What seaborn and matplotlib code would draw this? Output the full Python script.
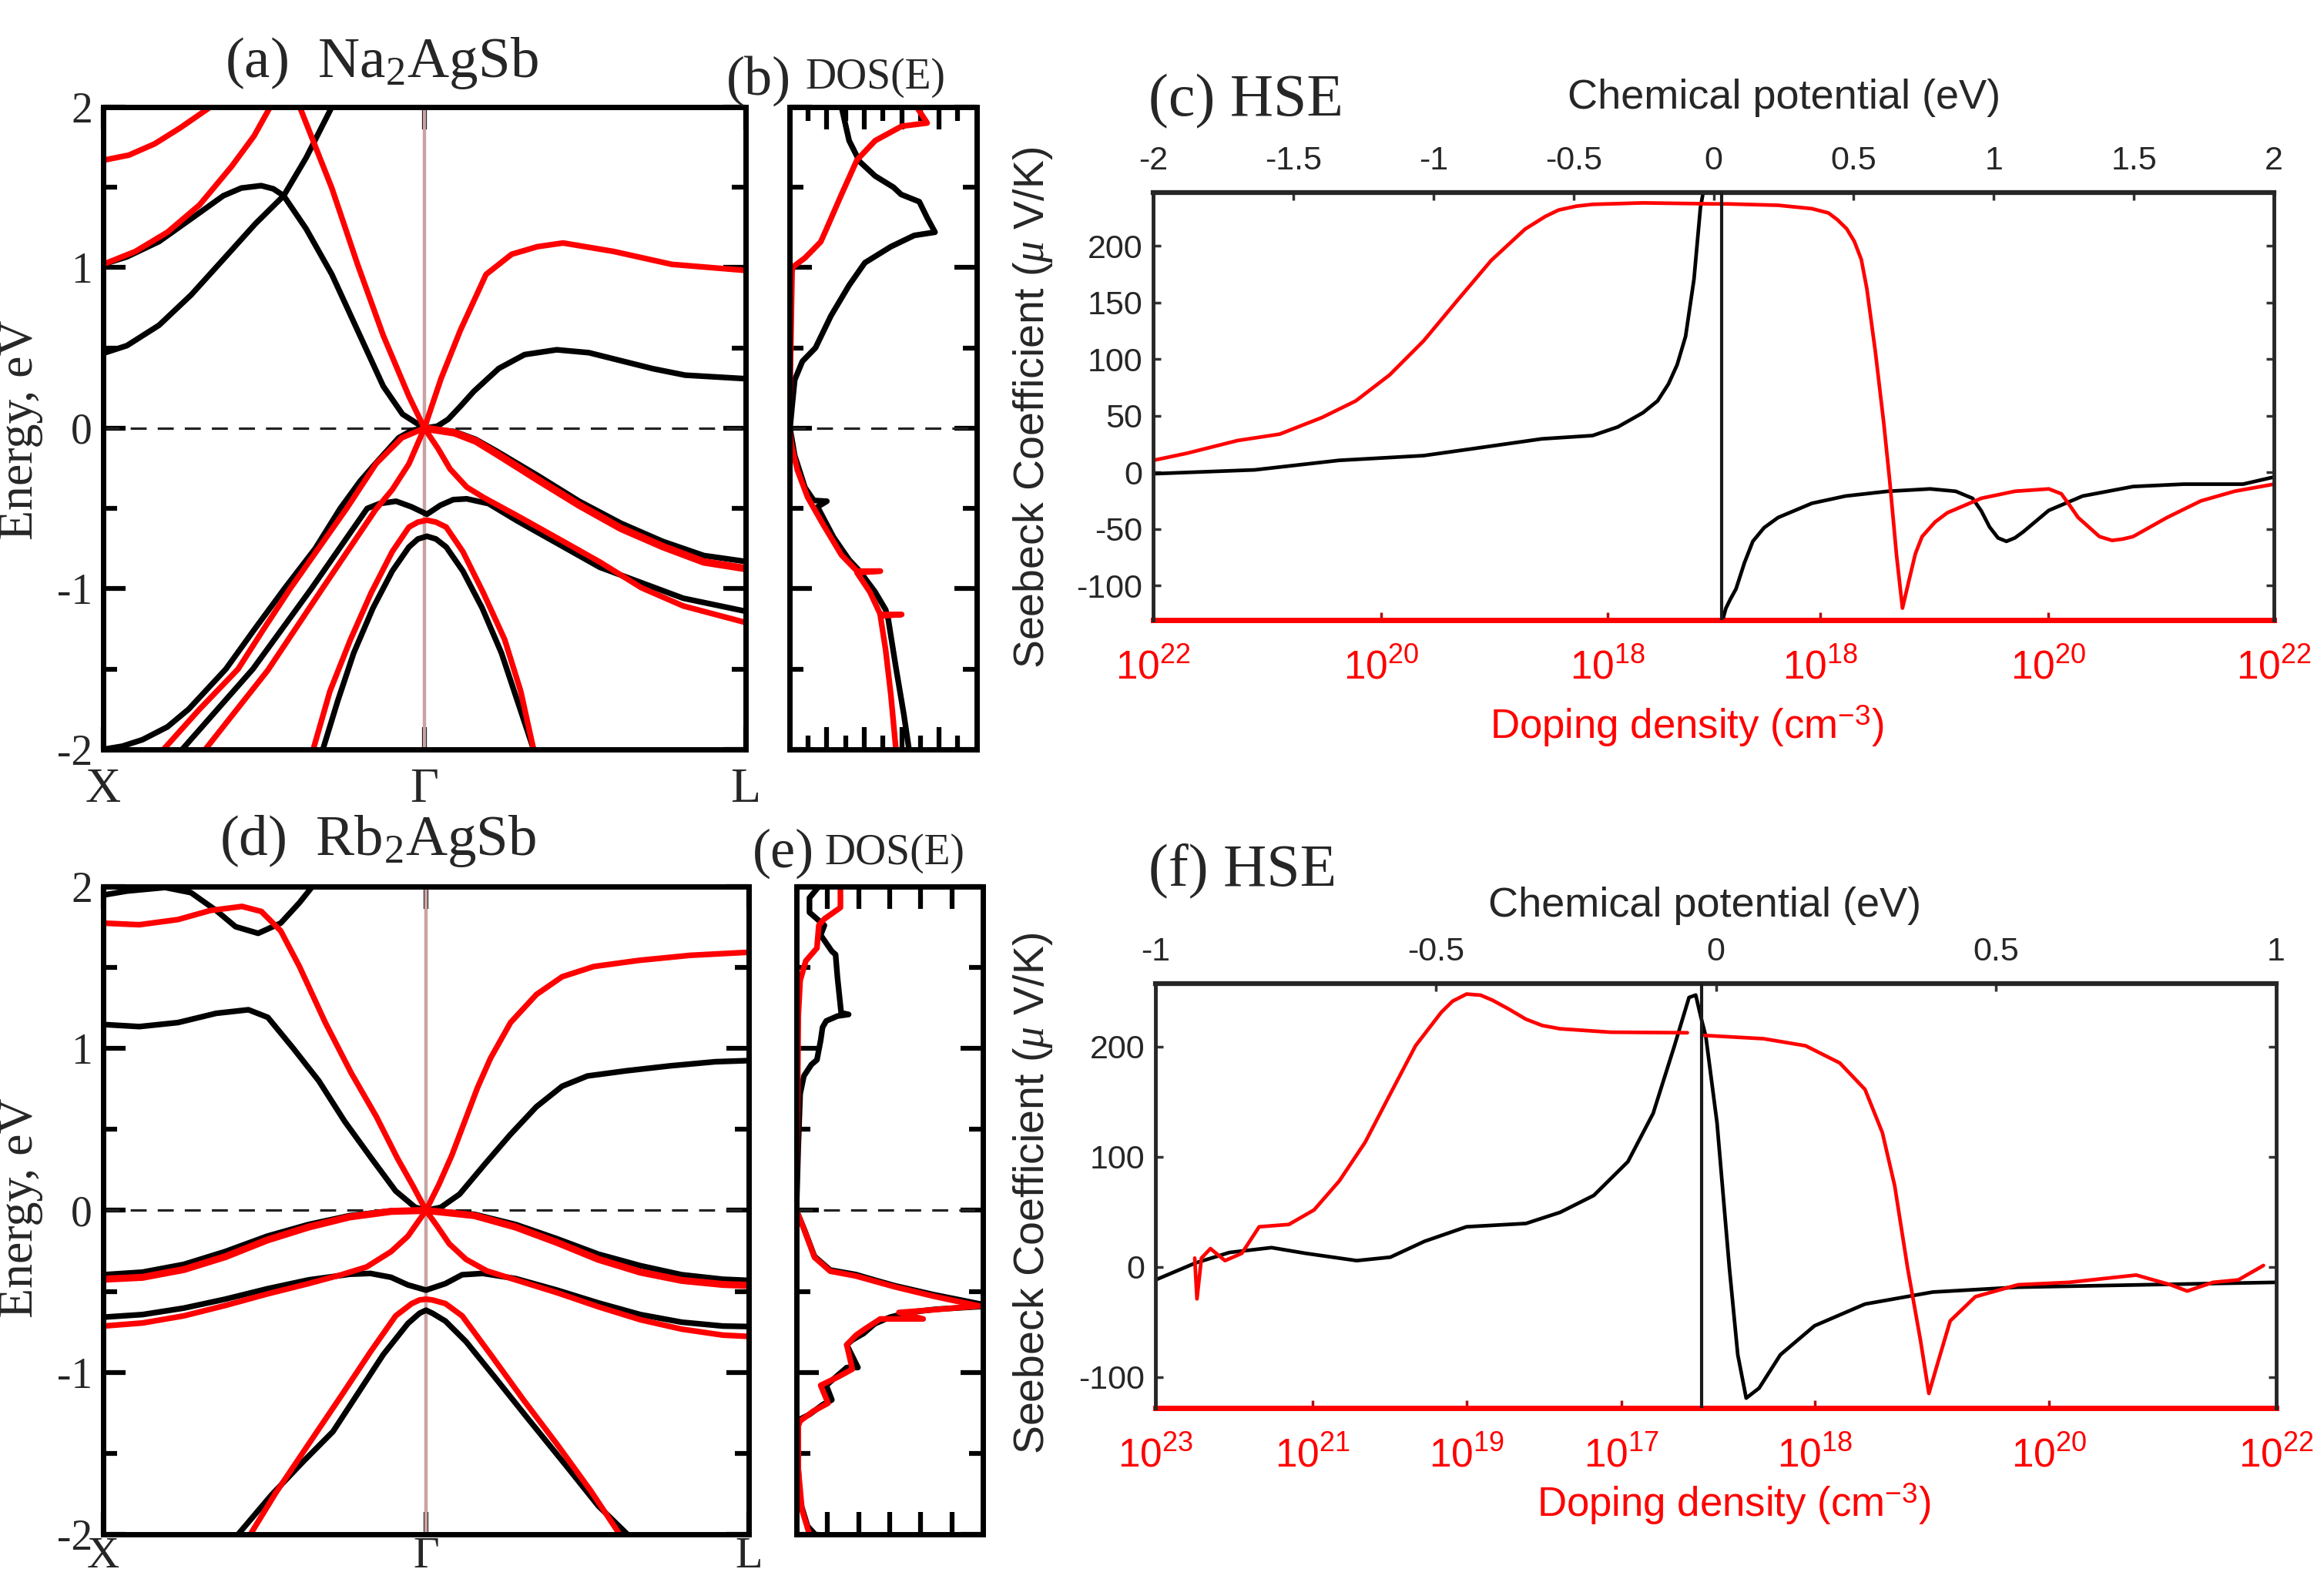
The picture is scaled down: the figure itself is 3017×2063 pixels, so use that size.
import matplotlib
matplotlib.use("Agg")
import matplotlib.pyplot as plt
import seaborn as sns

# ---------------- DATA ----------------
# Band-path ticks
band_ticks = [0.0, 0.5, 1.0]
band_tick_labels = ["X", "Γ", "L"]
energy_ticks = [-2, -1, 0, 1, 2]
energy_tick_labels = ["-2", "-1", "0", "1", "2"]

# (a) Na2AgSb bands, black set
na_b1_k = [0, 0.037, 0.087, 0.137, 0.187, 0.237, 0.281, 0.316, 0.356]
na_b1_E = [0.466, 0.514, 0.641, 0.83, 1.051, 1.273, 1.447, 1.684, 2.0]
na_b2_k = [0, 0.037, 0.087, 0.137, 0.187, 0.215, 0.246, 0.265, 0.281, 0.316, 0.356, 0.396, 0.436, 0.466, 0.5]
na_b2_E = [1.02, 1.067, 1.162, 1.304, 1.447, 1.495, 1.51, 1.49, 1.447, 1.241, 0.957, 0.609, 0.261, 0.087, 0.0]
na_b3_k = [0.5, 0.52, 0.537, 0.557, 0.577, 0.616, 0.656, 0.706, 0.756, 0.806, 0.856, 0.906, 1.0]
na_b3_E = [0.0, 0.012, 0.055, 0.14, 0.229, 0.372, 0.458, 0.488, 0.47, 0.42, 0.37, 0.33, 0.308]
na_b4_k = [0, 0.03, 0.061, 0.1, 0.133, 0.191, 0.236, 0.282, 0.33, 0.369, 0.4, 0.424, 0.46, 0.48, 0.5]
na_b4_E = [-2.0, -1.98, -1.94, -1.86, -1.75, -1.5, -1.25, -1.0, -0.75, -0.5, -0.33, -0.22, -0.06, -0.015, 0.0]
na_b5_k = [0.5, 0.547, 0.58, 0.612, 0.676, 0.741, 0.806, 0.871, 0.935, 1.0]
na_b5_E = [0.0, -0.021, -0.07, -0.142, -0.294, -0.455, -0.592, -0.705, -0.793, -0.83]
na_b6_k = [0.123, 0.233, 0.324, 0.411, 0.43, 0.456, 0.48, 0.504, 0.525, 0.545, 0.566, 0.6, 0.644, 0.773, 0.903, 1.0]
na_b6_E = [-2.0, -1.5, -1.0, -0.5, -0.47, -0.455, -0.49, -0.536, -0.48, -0.445, -0.44, -0.47, -0.576, -0.866, -1.059, -1.14]
na_b7_k = [0.342, 0.365, 0.39, 0.42, 0.45, 0.476, 0.49, 0.504, 0.518, 0.534, 0.56, 0.59, 0.62, 0.645, 0.67]
na_b7_E = [-2.0, -1.7, -1.4, -1.12, -0.89, -0.74, -0.69, -0.673, -0.69, -0.74, -0.89, -1.12, -1.4, -1.7, -2.0]
# (a) red set
na_r1_k = [0, 0.04, 0.08, 0.12, 0.167]
na_r1_E = [1.668, 1.70, 1.77, 1.87, 2.0]
na_r2_k = [0, 0.05, 0.1, 0.15, 0.2, 0.235, 0.26]
na_r2_E = [1.02, 1.1, 1.22, 1.39, 1.63, 1.82, 2.0]
na_r3_k = [0.306, 0.356, 0.396, 0.436, 0.476, 0.5, 0.521, 0.54, 0.566, 0.592, 0.644, 0.709, 0.773, 0.838, 0.903, 1.0]
na_r3_E = [2.0, 1.494, 1.02, 0.577, 0.198, 0.0, -0.125, -0.254, -0.367, -0.431, -0.544, -0.689, -0.833, -0.994, -1.107, -1.21]
na_r4_k = [0.159, 0.256, 0.34, 0.424, 0.45, 0.476, 0.5, 0.526, 0.556, 0.596, 0.636, 0.676, 0.716, 0.795, 0.885, 1.0]
na_r4_E = [-2.0, -1.509, -1.006, -0.508, -0.383, -0.222, 0.0, 0.309, 0.609, 0.957, 1.083, 1.13, 1.153, 1.10, 1.02, 0.982]
na_r5_k = [0.094, 0.15, 0.21, 0.25, 0.291, 0.335, 0.379, 0.425, 0.465, 0.5]
na_r5_E = [-2.0, -1.75, -1.5, -1.25, -1.0, -0.75, -0.5, -0.22, -0.06, 0.0]
na_r6_k = [0.5, 0.547, 0.58, 0.612, 0.676, 0.741, 0.806, 0.871, 0.935, 1.0]
na_r6_E = [0.0, -0.029, -0.08, -0.158, -0.319, -0.479, -0.624, -0.737, -0.833, -0.874]
na_r7_k = [0.327, 0.353, 0.385, 0.417, 0.45, 0.476, 0.49, 0.504, 0.518, 0.534, 0.56, 0.592, 0.625, 0.65, 0.67]
na_r7_E = [-2.0, -1.638, -1.316, -1.027, -0.769, -0.616, -0.585, -0.573, -0.585, -0.616, -0.769, -1.027, -1.316, -1.638, -2.0]

# (d) Rb2AgSb bands, black set
rb_b1_k = [0, 0.037, 0.096, 0.136, 0.175, 0.205, 0.24, 0.275, 0.304, 0.324]
rb_b1_E = [1.947, 1.972, 1.994, 1.962, 1.852, 1.752, 1.711, 1.774, 1.9, 2.0]
rb_b2_k = [0, 0.056, 0.116, 0.175, 0.225, 0.255, 0.294, 0.334, 0.374, 0.414, 0.453, 0.483, 0.5]
rb_b2_E = [1.148, 1.135, 1.16, 1.217, 1.239, 1.192, 1.003, 0.80, 0.55, 0.33, 0.12, 0.02, 0.0]
rb_b3_k = [0.5, 0.523, 0.552, 0.592, 0.631, 0.671, 0.711, 0.75, 0.81, 0.879, 0.948, 1.0]
rb_b3_E = [0.0, 0.019, 0.10, 0.29, 0.47, 0.64, 0.767, 0.83, 0.862, 0.893, 0.918, 0.925]
rb_b4_k = [0, 0.061, 0.125, 0.189, 0.254, 0.318, 0.382, 0.446, 0.5, 0.575, 0.639, 0.703, 0.767, 0.832, 0.896, 0.96, 1.0]
rb_b4_E = [-0.397, -0.381, -0.333, -0.254, -0.159, -0.087, -0.032, -0.003, 0.0, -0.024, -0.087, -0.175, -0.27, -0.341, -0.397, -0.425, -0.432]
rb_b5_k = [0, 0.061, 0.125, 0.189, 0.254, 0.318, 0.382, 0.414, 0.446, 0.472, 0.5, 0.53, 0.556, 0.588, 0.639, 0.703, 0.767, 0.832, 0.896, 0.96, 1.0]
rb_b5_E = [-0.659, -0.643, -0.603, -0.548, -0.484, -0.429, -0.394, -0.389, -0.413, -0.46, -0.492, -0.452, -0.397, -0.389, -0.421, -0.492, -0.571, -0.643, -0.69, -0.714, -0.717]
rb_b6_k = [0.209, 0.26, 0.31, 0.356, 0.395, 0.434, 0.472, 0.49, 0.5, 0.51, 0.53, 0.562, 0.607, 0.658, 0.716, 0.767, 0.812]
rb_b6_E = [-2.0, -1.76, -1.55, -1.365, -1.127, -0.889, -0.698, -0.635, -0.616, -0.635, -0.683, -0.81, -1.032, -1.286, -1.571, -1.825, -2.0]
# (d) red set
rb_r1_k = [0, 0.056, 0.116, 0.166, 0.215, 0.245, 0.275, 0.304, 0.344, 0.384, 0.423, 0.456, 0.48, 0.5,
           0.517, 0.536, 0.562, 0.594, 0.639, 0.703, 0.767, 0.832, 0.896, 0.96, 1.0]
rb_r1_E = [1.774, 1.764, 1.796, 1.852, 1.877, 1.846, 1.726, 1.506, 1.16, 0.85, 0.58, 0.32, 0.15, 0.0,
           -0.095, -0.206, -0.302, -0.373, -0.429, -0.508, -0.595, -0.675, -0.733, -0.77, -0.778]
rb_r2_k = [0, 0.061, 0.125, 0.189, 0.254, 0.318, 0.369, 0.408, 0.446, 0.472, 0.5, 0.52, 0.54, 0.56,
           0.58, 0.6, 0.631, 0.671, 0.711, 0.76, 0.83, 0.909, 1.0]
rb_r2_E = [-0.714, -0.695, -0.651, -0.587, -0.516, -0.452, -0.397, -0.349, -0.254, -0.159, 0.0, 0.16, 0.34, 0.55,
           0.76, 0.94, 1.16, 1.333, 1.443, 1.506, 1.544, 1.575, 1.594]
rb_r3_k = [0, 0.061, 0.125, 0.189, 0.254, 0.318, 0.382, 0.446, 0.5, 0.575, 0.639, 0.703, 0.767, 0.832, 0.896, 0.96, 1.0]
rb_r3_E = [-0.425, -0.413, -0.365, -0.286, -0.183, -0.103, -0.04, -0.006, 0.0, -0.032, -0.103, -0.198, -0.302, -0.381, -0.432, -0.457, -0.463]
rb_r4_k = [0.228, 0.267, 0.318, 0.369, 0.414, 0.453, 0.478, 0.49, 0.5, 0.51, 0.53, 0.556, 0.6, 0.652, 0.703, 0.755, 0.8]
rb_r4_E = [-2.0, -1.746, -1.444, -1.143, -0.873, -0.651, -0.575, -0.553, -0.548, -0.553, -0.575, -0.651, -0.889, -1.175, -1.444, -1.73, -2.0]

# (b) DOS Na2AgSb (normalised DOS, energy)
dos_b_blk_x = [0.278, 0.319, 0.375, 0.458, 0.556, 0.597, 0.694, 0.736, 0.778, 0.667, 0.542, 0.403, 0.319, 0.222,
               0.139, 0.069, 0.028, 0.014, 0.003, 0.028, 0.083, 0.13, 0.2, 0.15, 0.236, 0.319, 0.375, 0.458,
               0.514, 0.528, 0.569, 0.611, 0.639]
dos_b_blk_E = [2.0, 1.79, 1.66, 1.57, 1.5, 1.455, 1.41, 1.31, 1.22, 1.2, 1.13, 1.03, 0.89, 0.70,
               0.5, 0.416, 0.30, 0.135, 0.0, -0.17, -0.37, -0.45, -0.455, -0.49, -0.68, -0.82, -0.89, -1.02,
               -1.13, -1.19, -1.49, -1.78, -2.0]
dos_b_red_x = [0.68, 0.736, 0.6, 0.458, 0.361, 0.278, 0.194, 0.167, 0.083, 0.021, 0.014, 0.004, 0.0, 0.01,
               0.042, 0.097, 0.18, 0.278, 0.361, 0.486, 0.361, 0.43, 0.486, 0.6, 0.486, 0.514, 0.542, 0.569]
dos_b_red_E = [2.0, 1.9, 1.88, 1.79, 1.67, 1.455, 1.23, 1.16, 1.06, 1.006, 0.98, 0.3, 0.0, -0.1,
               -0.26, -0.43, -0.6, -0.79, -0.89, -0.89, -0.9, -1.02, -1.16, -1.16, -1.17, -1.38, -1.66, -2.0]
# (e) DOS Rb2AgSb
dos_e_blk_x = [0.12, 0.07, 0.07, 0.12, 0.15, 0.13, 0.19, 0.21, 0.22, 0.24, 0.28, 0.22, 0.16, 0.14, 0.13, 0.11,
               0.08, 0.04, 0.02, 0.01, 0.0, 0.042, 0.097, 0.181, 0.319, 0.42, 0.528, 0.736, 1.04, 0.75, 0.6,
               0.5, 0.42, 0.36, 0.3, 0.27, 0.33, 0.27, 0.2, 0.16, 0.19, 0.14, 0.07, 0.0, 0.005, 0.02, 0.06, 0.1]
dos_e_blk_E = [2.0, 1.93, 1.84, 1.79, 1.76, 1.7, 1.6, 1.58, 1.44, 1.22, 1.21, 1.2, 1.17, 1.13, 1.05, 0.93,
               0.9, 0.83, 0.72, 0.4, 0.0, -0.117, -0.284, -0.368, -0.396, -0.43, -0.465, -0.52, -0.59, -0.61, -0.63,
               -0.66, -0.7, -0.76, -0.8, -0.83, -0.97, -0.97, -1.04, -1.08, -1.17, -1.2, -1.26, -1.3, -1.5, -1.8, -1.95, -2.0]
dos_e_red_x = [0.236, 0.236, 0.15, 0.12, 0.11, 0.05, 0.02, 0.01, 0.007, 0.0, 0.042, 0.097, 0.181, 0.319, 0.528,
               0.736, 0.98, 0.72, 0.55, 0.68, 0.45, 0.37, 0.32, 0.27, 0.30, 0.22, 0.13, 0.17, 0.09, 0.02, 0.01,
               0.01, 0.03, 0.07]
dos_e_red_E = [2.0, 1.87, 1.8, 1.76, 1.62, 1.54, 1.42, 1.2, 0.8, 0.0, -0.12, -0.29, -0.375, -0.405, -0.472,
               -0.53, -0.59, -0.615, -0.63, -0.67, -0.67, -0.73, -0.77, -0.83, -0.98, -1.03, -1.08, -1.19, -1.24, -1.3, -1.33,
               -1.6, -1.85, -2.0]

# (c) Seebeck Na2AgSb vs chemical potential
c_red_mu = [-2.0, -1.879, -1.699, -1.548, -1.397, -1.277, -1.156, -1.035, -0.915, -0.794, -0.673, -0.6, -0.553, -0.49,
            -0.432, -0.252, 0.005, 0.05, 0.23, 0.351, 0.41, 0.442, 0.475, 0.502, 0.527, 0.547, 0.577, 0.607, 0.628, 0.653,
            0.674, 0.698, 0.72, 0.744, 0.79, 0.834, 0.955, 1.075, 1.196, 1.241, 1.27, 1.301, 1.377, 1.422, 1.46, 1.497,
            1.618, 1.739, 1.859, 2.0]
c_red_S = [10.5, 16.8, 28, 33.7, 48.4, 63, 86, 116, 151.6, 187, 214.7, 226, 231.6, 235,
           236.6, 237.9, 237, 237, 235.8, 232.8, 229, 223, 215, 204, 188, 162, 107, 44, -6.3, -73.7,
           -120, -94.7, -72, -56.8, -44, -35.8, -23, -16.8, -14.7, -19, -29, -40, -56.8, -60.2, -59, -56.8,
           -40, -25.3, -16.8, -10.5]
c_blk_l_mu = [-2.0, -1.638, -1.337, -1.186, -1.035, -0.854, -0.613, -0.432, -0.342, -0.252, -0.2, -0.161, -0.13, -0.1,
              -0.07, -0.047, -0.035]
c_blk_l_S = [-1.3, 2.1, 10.5, 12.6, 14.7, 21, 29.5, 32.4, 40, 52.6, 63, 78, 95, 120,
             170.5, 233.7, 250]
c_blk_r_mu = [0.035, 0.044, 0.06, 0.08, 0.11, 0.14, 0.18, 0.23, 0.351, 0.471, 0.622, 0.773, 0.864, 0.924, 0.955,
              0.985, 1.015, 1.045, 1.075, 1.105, 1.196, 1.317, 1.497, 1.678, 1.889, 2.0]
c_blk_r_S = [-128, -120, -112, -103, -80, -61, -49, -40, -27.4, -21, -16.8, -14.7, -16.8, -23, -34,
             -48.4, -58, -61, -58, -52.6, -33.7, -21, -12.6, -10.5, -10.5, -4.2]
c_mu_ticks = [-2, -1.5, -1, -0.5, 0, 0.5, 1, 1.5, 2]
c_mu_labels = ["-2", "-1.5", "-1", "-0.5", "0", "0.5", "1", "1.5", "2"]
c_S_ticks = [-100, -50, 0, 50, 100, 150, 200]
c_dop_pos = [-2.0, -1.186, -0.378, 0.381, 1.195, 2.0]
c_dop_exp = ["22", "20", "18", "18", "20", "22"]

# (f) Seebeck Rb2AgSb vs chemical potential
f_red_l_mu = [-0.93, -0.926, -0.918, -0.902, -0.876, -0.846, -0.815, -0.762, -0.717, -0.672, -0.626, -0.581,
              -0.536, -0.49, -0.47, -0.445, -0.42, -0.399, -0.37, -0.339, -0.31, -0.278, -0.188, -0.051]
f_red_l_S = [8, -29, 8, 16.6, 5.7, 12.3, 36.4, 38.5, 51.7, 78, 113, 157,
             200.6, 231, 241, 247.5, 246.5, 242, 234, 224.7, 219, 216, 212.9, 212.4]
f_red_r_mu = [-0.021, 0.085, 0.16, 0.221, 0.266, 0.297, 0.319, 0.342, 0.365, 0.38, 0.395, 0.418, 0.463,
              0.539, 0.63, 0.75, 0.811, 0.841, 0.887, 0.932, 0.977]
f_red_r_S = [210, 207, 200.6, 185, 161, 121.8, 73.6, -0.9, -66.6, -114.8, -88.5, -49, -27,
             -16.2, -14, -7.4, -16.2, -21.9, -14, -11.8, 1.3]
f_blk_mu = [-1.0, -0.929, -0.868, -0.793, -0.732, -0.641, -0.581, -0.52, -0.445, -0.339, -0.278, -0.218,
            -0.157, -0.112, -0.074, -0.048, -0.036, -0.027, -0.018, 0.002, 0.024, 0.039, 0.054, 0.077,
            0.115, 0.176, 0.266, 0.387, 0.539, 0.766, 1.0]
f_blk_S = [-11.8, 3.5, 13.1, 17.5, 12.3, 5.7, 8.8, 23.2, 36.4, 39.4, 49.5, 64.8,
           95.5, 139.3, 200.6, 244.4, 246.6, 226.9, 209, 130.5, -0.9, -79.7, -119, -110,
           -79.7, -53.4, -33.7, -22.8, -18.4, -16.2, -14]
f_mu_ticks = [-1, -0.5, 0, 0.5, 1]
f_mu_labels = ["-1", "-0.5", "0", "0.5", "1"]
f_S_ticks = [-100, 0, 100, 200]
f_dop_pos = [-1.0, -0.72, -0.445, -0.168, 0.176, 0.595, 1.0]
f_dop_exp = ["23", "21", "19", "17", "18", "20", "22"]

# ---------------- STYLE ----------------
sns.set_theme(style="ticks")
plt.rcParams["font.family"] = ["Liberation Sans", "DejaVu Sans"]
plt.rcParams["axes.unicode_minus"] = False
plt.rcParams["mathtext.fontset"] = "custom"
plt.rcParams["mathtext.rm"] = "Liberation Serif"
plt.rcParams["mathtext.it"] = "Liberation Serif:italic"
plt.rcParams["mathtext.sf"] = "Liberation Sans"
plt.rcParams["lines.solid_joinstyle"] = "round"

SERIF = ["Liberation Serif", "DejaVu Serif"]
RED = "#ff0000"
BLK = "#000000"

fig = plt.figure(figsize=(30.17, 20.63), dpi=100)


def draw(ax, x, y, color, lw):
    sns.lineplot(x=x, y=y, ax=ax, color=color, linewidth=lw, sort=False,
                 estimator=None, legend=False, errorbar=None)


def style_band(ax, xfs=46, xpad=17):
    ax.set_xlim(0, 1)
    ax.set_ylim(-2, 2)
    ax.set_xticks(band_ticks, band_tick_labels, fontfamily=SERIF, fontsize=xfs)
    ax.set_yticks(energy_ticks, energy_tick_labels, fontfamily=SERIF, fontsize=40)
    ax.set_yticks([-1.5, -0.5, 0.5, 1.5], minor=True)
    ax.tick_params(which="both", direction="in", top=True, right=True, width=4.5, color=BLK)
    ax.tick_params(which="major", length=21, pad=10)
    ax.tick_params(which="minor", length=13)
    ax.tick_params(axis="x", pad=xpad)
    for s in ax.spines.values():
        s.set_linewidth(5)
        s.set_color(BLK)
    ax.axhline(0, color="#222222", lw=2.3, ls=(0, (6.5, 4.5)), zorder=1)
    ax.set_xlabel("")
    ax.set_ylabel("")


def style_dos(ax, xmaj, xmin):
    ax.set_xlim(0, 1)
    ax.set_ylim(-2, 2)
    ax.set_xticks(xmaj)
    ax.set_xticks(xmin, minor=True)
    ax.set_yticks([-2, -1, 0, 1, 2])
    ax.set_yticks([-1.5, -0.5, 0.5, 1.5], minor=True)
    ax.tick_params(which="both", direction="in", top=True, right=True, width=4.5, color=BLK,
                   labelleft=False, labelbottom=False)
    ax.tick_params(which="major", length=21)
    ax.tick_params(which="minor", length=13)
    for s in ax.spines.values():
        s.set_linewidth(5)
        s.set_color(BLK)
    ax.axhline(0, color="#222222", lw=2.3, ls=(0, (6.5, 4.5)), zorder=1)
    ax.set_xlabel("")
    ax.set_ylabel("")


def style_seebeck(ax, xlim, ylim, mu_ticks, mu_labels, S_ticks, dop_pos, dop_exp, mu0):
    ax.set_xlim(*xlim)
    ax.set_ylim(*ylim)
    ax.xaxis.tick_top()
    ax.set_xticks(mu_ticks, mu_labels, fontsize=31)
    ax.set_yticks(S_ticks, [str(v) for v in S_ticks], fontsize=31)
    ax.tick_params(axis="x", direction="in", length=7, width=2.5, color="#333333", pad=15)
    ax.tick_params(axis="y", direction="in", length=7, width=2.5, color="#333333", right=True, pad=10)
    for side in ["top", "left", "right"]:
        ax.spines[side].set_color("#262626")
        ax.spines[side].set_linewidth(3.5)
    ax.spines["top"].set_linewidth(4.5)
    ax.spines["bottom"].set_visible(False)
    sec = ax.secondary_xaxis("bottom")
    sec.set_xticks(dop_pos, [r"$\mathsf{10^{%s}}$" % e for e in dop_exp], fontsize=37, color=RED)
    sec.tick_params(direction="in", length=7, width=2.5, color="#b01010", pad=27)
    sec.spines["bottom"].set_color(RED)
    sec.spines["bottom"].set_linewidth(5)
    ax.axvline(mu0, color="#1a1a1a", lw=3, zorder=3)
    ax.set_xlabel("")
    ax.set_ylabel("")


LW_BAND = 5.3

# ---------------- (a) ----------------
axA = fig.add_axes([0.0444, 0.5284, 0.2764, 0.4043])
axA.axvline(0.5, color="#c9a3a3", lw=3.2, zorder=1)
for k, E in [(na_b1_k, na_b1_E), (na_b2_k, na_b2_E), (na_b3_k, na_b3_E), (na_b4_k, na_b4_E),
             (na_b5_k, na_b5_E), (na_b6_k, na_b6_E), (na_b7_k, na_b7_E)]:
    draw(axA, k, E, BLK, LW_BAND)
for k, E in [(na_r1_k, na_r1_E), (na_r2_k, na_r2_E), (na_r3_k, na_r3_E), (na_r4_k, na_r4_E),
             (na_r5_k, na_r5_E), (na_r7_k, na_r7_E)]:
    draw(axA, k, E, RED, LW_BAND)
draw(axA, na_r6_k, na_r6_E, RED, 7.0)
style_band(axA)

# ---------------- (b) ----------------
axB = fig.add_axes([0.3397, 0.5284, 0.0805, 0.4043])
draw(axB, dos_b_blk_x, dos_b_blk_E, BLK, LW_BAND)
draw(axB, dos_b_red_x, dos_b_red_E, RED, LW_BAND)
style_dos(axB, [0.2, 0.4, 0.6, 0.8], [0.1, 0.3, 0.5, 0.7, 0.9])

# ---------------- (d) ----------------
axD = fig.add_axes([0.0444, 0.0344, 0.2778, 0.4077])
axD.axvline(0.5, color="#c9a3a3", lw=3.2, zorder=1)
for k, E in [(rb_b1_k, rb_b1_E), (rb_b2_k, rb_b2_E), (rb_b3_k, rb_b3_E), (rb_b4_k, rb_b4_E),
             (rb_b5_k, rb_b5_E), (rb_b6_k, rb_b6_E)]:
    draw(axD, k, E, BLK, LW_BAND)
for k, E in [(rb_r1_k, rb_r1_E), (rb_r2_k, rb_r2_E), (rb_r4_k, rb_r4_E)]:
    draw(axD, k, E, RED, LW_BAND)
draw(axD, rb_r3_k, rb_r3_E, RED, 6.6)
style_band(axD, xfs=42, xpad=2)

# ---------------- (e) ----------------
axE = fig.add_axes([0.3427, 0.0344, 0.0802, 0.4077])
draw(axE, dos_e_blk_x, dos_e_blk_E, BLK, LW_BAND)
draw(axE, dos_e_red_x, dos_e_red_E, RED, LW_BAND)
style_dos(axE, [1 / 6, 2 / 6, 3 / 6, 4 / 6, 5 / 6], [])

# ---------------- (c) ----------------
axC = fig.add_axes([0.4962, 0.6098, 0.4823, 0.2690])
draw(axC, c_blk_l_mu, c_blk_l_S, BLK, 3.4)
draw(axC, c_blk_r_mu, c_blk_r_S, BLK, 3.4)
draw(axC, c_red_mu, c_red_S, RED, 3.4)
style_seebeck(axC, (-2, 2), (-130.5, 247), c_mu_ticks, c_mu_labels, c_S_ticks, c_dop_pos, c_dop_exp, 0.03)

# ---------------- (f) ----------------
axF = fig.add_axes([0.4972, 0.1139, 0.4823, 0.2671])
draw(axF, f_blk_mu, f_blk_S, BLK, 3.4)
draw(axF, f_red_l_mu, f_red_l_S, RED, 3.4)
draw(axF, f_red_r_mu, f_red_r_S, RED, 3.4)
style_seebeck(axF, (-1, 1), (-128, 257), f_mu_ticks, f_mu_labels, f_S_ticks, f_dop_pos, f_dop_exp, -0.025)

# ---------------- TEXT ----------------
fig.text(0.0968, 0.9515, "(a)  Na$_2$AgSb", fontsize=54, family=SERIF, ha="left", va="baseline")
fig.text(0.3126, 0.9404, "(b)", fontsize=52, family=SERIF, ha="left", va="baseline")
fig.text(0.3464, 0.9443, "DOS(E)", fontsize=40, family=SERIF, ha="left", va="baseline")
fig.text(0.0945, 0.462, "(d)  Rb$_2$AgSb", fontsize=54, family=SERIF, ha="left", va="baseline")
fig.text(0.3238, 0.4542, "(e)", fontsize=52, family=SERIF, ha="left", va="baseline")
fig.text(0.3547, 0.456, "DOS(E)", fontsize=40, family=SERIF, ha="left", va="baseline")
fig.text(0.009, 0.7295, "Energy, eV", fontsize=46, family=SERIF, rotation=90, ha="center", va="center")
fig.text(0.009, 0.240, "Energy, eV", fontsize=46, family=SERIF, rotation=90, ha="center", va="center")

fig.text(0.4942, 0.9273, "(c) HSE", fontsize=56, family=SERIF, ha="left", va="baseline")
fig.text(0.4942, 0.443, "(f) HSE", fontsize=56, family=SERIF, ha="left", va="baseline")
fig.text(0.7677, 0.9384, "Chemical potential (eV)", fontsize=39, ha="center", va="center")
fig.text(0.7335, 0.430, "Chemical potential (eV)", fontsize=39, ha="center", va="center")
fig.text(0.7259, 0.5429, r"Doping density (cm$^{\mathsf{-3}}$)", fontsize=38, color=RED, ha="center", va="center")
fig.text(0.746, 0.0533, r"Doping density (cm$^{\mathsf{-3}}$)", fontsize=38, color=RED, ha="center", va="center")
fig.text(0.4445, 0.7436, r"Seebeck Coefficient ($\mu$ V/K)", fontsize=40, rotation=90, ha="center", va="center")
fig.text(0.4445, 0.2492, r"Seebeck Coefficient ($\mu$ V/K)", fontsize=40, rotation=90, ha="center", va="center")

fig.savefig("out.png", dpi=100)
